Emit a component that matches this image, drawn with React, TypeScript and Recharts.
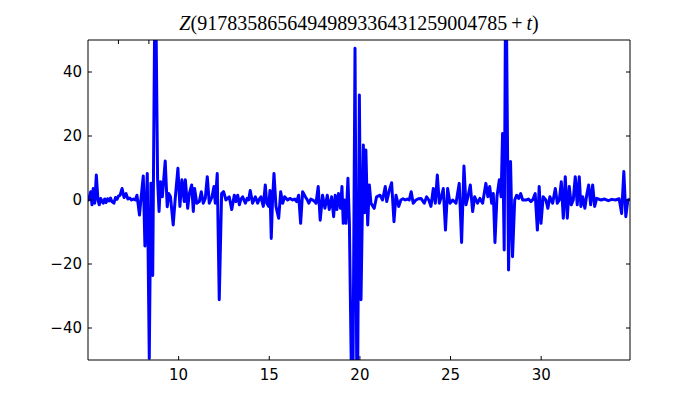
import { Line, LineChart, XAxis, YAxis } from 'recharts'

// t values (x) and Z(t) values
const T = [
  5.0, 5.04, 5.1, 5.15, 5.22, 5.29, 5.37, 5.46, 5.55, 5.62, 5.7, 5.78, 5.84, 5.92, 6.0, 6.08, 6.16, 6.24, 6.32,
  6.43, 6.52, 6.6, 6.68, 6.77, 6.88, 6.99, 7.1, 7.2, 7.3, 7.4, 7.5, 7.61, 7.7, 7.77, 7.84, 7.9, 7.97, 8.05,
  8.14, 8.27, 8.38, 8.47, 8.57, 8.71, 8.84, 8.92, 9.0, 9.1, 9.26, 9.37, 9.45, 9.55, 9.7, 9.82, 9.96, 10.07,
  10.18, 10.31, 10.37, 10.5, 10.59, 10.72, 10.81, 10.88, 11.0, 11.14, 11.25, 11.36, 11.47, 11.58, 11.69, 11.84,
  11.95, 12.02, 12.13, 12.24, 12.37, 12.48, 12.61, 12.7, 12.79, 12.93, 13.07, 13.16, 13.26, 13.35, 13.44,
  13.53, 13.68, 13.78, 13.86, 13.95, 14.08, 14.23, 14.36, 14.45, 14.54, 14.67, 14.78, 14.86, 14.97, 15.04,
  15.11, 15.18, 15.26, 15.37, 15.45, 15.52, 15.63, 15.74, 15.85, 16.01, 16.14, 16.29, 16.4, 16.51, 16.62,
  16.73, 16.84, 16.99, 17.1, 17.18, 17.29, 17.4, 17.51, 17.58, 17.7, 17.81, 17.94, 18.07, 18.2, 18.31, 18.44,
  18.55, 18.64, 18.73, 18.82, 18.93, 19.01, 19.08, 19.15, 19.23, 19.34, 19.42, 19.59, 19.73, 19.85, 19.97,
  20.06, 20.19, 20.26, 20.33, 20.43, 20.52, 20.61, 20.79, 20.92, 21.11, 21.25, 21.4, 21.48, 21.62, 21.75,
  21.88, 21.99, 22.14, 22.26, 22.38, 22.5, 22.61, 22.72, 22.83, 22.94, 23.09, 23.23, 23.37, 23.55, 23.68,
  23.8, 23.92, 24.05, 24.16, 24.27, 24.38, 24.49, 24.6, 24.72, 24.84, 24.97, 25.12, 25.3, 25.48, 25.61,
  25.74, 25.85, 25.96, 26.09, 26.22, 26.33, 26.49, 26.62, 26.77, 26.95, 27.06, 27.16, 27.27, 27.36, 27.45,
  27.56, 27.69, 27.79, 27.87, 27.96, 28.05, 28.2, 28.31, 28.42, 28.54, 28.65, 28.76, 28.87, 28.98, 29.16,
  29.3, 29.43, 29.55, 29.67, 29.79, 29.89, 29.99, 30.11, 30.26, 30.37, 30.48, 30.63, 30.78, 30.89, 31.0,
  31.11, 31.22, 31.33, 31.44, 31.55, 31.66, 31.77, 31.88, 31.99, 32.1, 32.19, 32.29, 32.41, 32.51, 32.62,
  32.73, 32.84, 32.95, 33.06, 33.3, 33.5, 33.7, 33.9, 34.1, 34.3, 34.44, 34.56, 34.67, 34.78, 34.9,
]

const Z = [
  0.5, 0, 1.5, 2.6, -1.5, 3.6, -1, 7.8, 0, -1.5, 0.5, -0.5, -1, 0.3, -0.8, 0.4, -0.3, 0.6, -0.5,
  -1, 0.8, 0.2, 1.2, 1.5, 3.6, 0.8, 2.0, 0.3, 0.6, 0, 0.3, 0, 1.5, -1.5, -4.7, -1, 3, 7.5,
  -14.4, 8.3, -49.5, 5.2, -23.6, 80, 6.2, -3.6, 5.7, 1, 12.2, -2.1, 2, 1, -7.8, 1, 9.9, -2,
  6.3, -0.5, 6.3, -2.6, 2, 4.7, -3.6, 3.6, -1, -0.5, 2.6, -1, 0.5, 7.3, -1, 1,
  4.2, -1, 8.3, -31.2, 2, 2.6, 0, 0.5, 1, -3, 1.5, -0.5, 1.5, -1.5, 0.3,
  1, -1, 0.5, 0, 3, -1, 1, -1, 0.3, 1, -2, 4.7, -1, -2, 3,
  -12, 0, 8.3, -2, -4, -5.7, 2.6, -1, 1, 0, 0.5, 0, 0.3, -0.5, 1.5,
  -7.3, 2.6, 1, 0, -1, 0.3, 0, -0.5, -1, 4.2, -6.3, 1.5, -2.6, 1.5, -3, 1,
  -5.2, 1.5, -3, 2, -2.6, 4.2, -7.3, 0, -7.3, 6.8, -7.3, -80, 47.4, -80, 32.8,
  -31.2, 17.2, -4, 15.6, -7.8, 4.7, -1, -2.6, 1, 1.5, 0, 4.2, -0.5, 3, 5.4,
  -6.8, 1.5, -2, 0, 0.4, 0, 0.3, 0, 2.6, -1, 0, 0.4, 0.5, -1, 1,
  0, -2, 3.6, -1, 7.8, -1, 1, 3.6, -9.4, 3.6, -1, 0, -1, 5.2, -13.3,
  10.6, -1.5, 1, 4.7, -3.6, 1, -1, 0.5, -1, 5.2, 1, 4.2, -1, 2, -13.3,
  1, 6.3, 1, 20.8, -15.6, 80, -21.9, 12, -17.7, 0, 1.5, 0.5, 2, 0, 0,
  0.3, -0.5, 0.2, 2, -9.4, 4.2, -7.3, 1, 0, -2.6, 1, -1, 3.6, -1, 0,
  5.7, -5.7, 7.3, -5.7, 4.2, -1.5, 0, 7.3, -1.5, 7.3, -2, 1, -2.6, 1.5, 4.7,
  -1.5, 4.7, -2, 0.5, 0, 0.3, -0.2, 0.2, 0, 0.4, -4.2, 8.9, -5.2, 0, 0.3,
]

const X_TICKS = [10, 15, 20, 25, 30]
const Y_TICKS = [-40, -20, 0, 20, 40]
const TITLE_NUMBER = '9178358656494989336431259004785'

const data = T.map((t, i) => ({ t, z: Z[i] }))

const TICK_FONT = { fontFamily: 'DejaVu Sans', fontSize: 15, fill: '#000' }
const fmt = (v: number) => (v < 0 ? `\u2212${-v}` : `${v}`)

// matplotlib-style inward ticks
function BottomTick({ x, y, payload }: any) {
  return (
    <g>
      <line x1={x} y1={y} x2={x} y2={y - 4} stroke="#000" />
      <text x={x} y={y + 20} textAnchor="middle" {...TICK_FONT}>
        {fmt(payload.value)}
      </text>
    </g>
  )
}

function TopTick({ x, y }: any) {
  return <line x1={x} y1={y} x2={x} y2={y + 4} stroke="#000" />
}

function LeftTick({ x, y, payload }: any) {
  return (
    <g>
      <line x1={x} y1={y} x2={x + 4} y2={y} stroke="#000" />
      <text x={x - 6} y={y} dy="0.35em" textAnchor="end" {...TICK_FONT}>
        {fmt(payload.value)}
      </text>
    </g>
  )
}

function RightTick({ x, y }: any) {
  return <line x1={x} y1={y} x2={x - 4} y2={y} stroke="#000" />
}

export default function App() {
  return (
    <div style={{ position: 'absolute', left: 0, top: 0, width: 700, height: 400, background: '#fff' }}>
      <LineChart width={700} height={400} data={data} margin={{ top: 38, right: 68, left: 38, bottom: 10 }}>
        <XAxis
          dataKey="t"
          type="number"
          domain={[5.0, 34.9]}
          allowDataOverflow
          ticks={X_TICKS}
          tickSize={0}
          tickMargin={0}
          height={30}
          axisLine={{ stroke: '#000' }}
          tickLine={false}
          tick={BottomTick}
        />
        <XAxis
          xAxisId="top"
          orientation="top"
          type="number"
          domain={[5.0, 34.9]}
          allowDataOverflow
          ticks={X_TICKS}
          tickSize={0}
          tickMargin={0}
          height={2}
          axisLine={{ stroke: '#000' }}
          tickLine={false}
          tick={TopTick}
        />
        <YAxis
          type="number"
          domain={[-50, 50]}
          allowDataOverflow
          ticks={Y_TICKS}
          tickSize={0}
          tickMargin={0}
          width={50}
          axisLine={{ stroke: '#000' }}
          tickLine={false}
          tick={LeftTick}
        />
        <YAxis
          yAxisId="right"
          orientation="right"
          type="number"
          domain={[-50, 50]}
          allowDataOverflow
          ticks={Y_TICKS}
          tickSize={0}
          tickMargin={0}
          width={2}
          axisLine={{ stroke: '#000' }}
          tickLine={false}
          tick={RightTick}
        />
        <Line
          type="linear"
          dataKey="z"
          stroke="#0000ff"
          strokeWidth={3}
          strokeLinejoin="round"
          dot={false}
          activeDot={false}
          isAnimationActive={false}
        />
      </LineChart>
      <svg width={700} height={400} style={{ position: 'absolute', left: 0, top: 0, pointerEvents: 'none' }}>
        <text x={359} y={30} textAnchor="middle" fontFamily="Liberation Serif" fontSize={20} fill="#000">
          <tspan fontStyle="italic">Z</tspan>({TITLE_NUMBER}
          <tspan dx={4}>+</tspan>
          <tspan dx={4} fontStyle="italic">t</tspan>)
        </text>
      </svg>
    </div>
  )
}
